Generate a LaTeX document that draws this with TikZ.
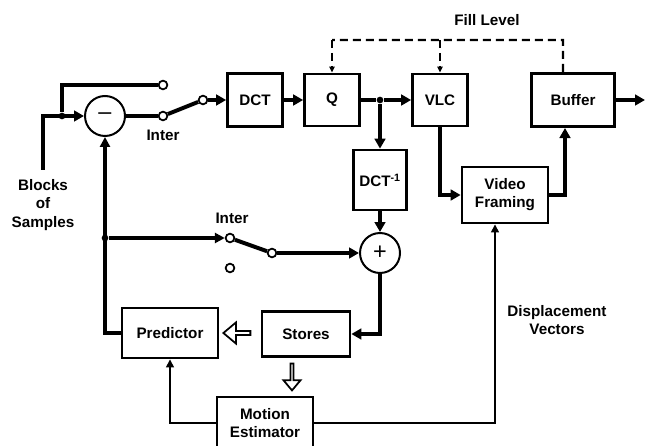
\documentclass[tikz,border=0pt]{standalone}
\usepackage{fontspec}
\setmainfont{Liberation Sans}
\usetikzlibrary{arrows.meta,shapes.arrows}

\begin{document}
\begin{tikzpicture}[x=0.3mm,y=-0.3mm,font=\fontsize{13}{15.5}\selectfont\bfseries,
  b/.style={draw,line width=2.3pt,inner sep=0pt,align=center,minimum width=16.5mm,minimum height=16mm},
  sum/.style={circle,draw,line width=1.7pt,minimum size=12mm,inner sep=0pt,font=\fontsize{20}{20}\selectfont},
  ct/.style={circle,draw,line width=1.5pt,fill=white,minimum size=2.6mm,inner sep=0pt},
  dot/.style={circle,fill,minimum size=2mm,inner sep=0pt},
  sig/.style={line width=3.4pt},
  a/.style={sig,-{Triangle[length=3mm,width=3.2mm]}},
  fbk/.style={line width=2.6pt,-{Triangle[length=3mm,width=3mm]}},
  th/.style={line width=1.8pt,-{Triangle[length=2.4mm,width=2.3mm]}},
  dsh/.style={line width=1.8pt,dash pattern=on 2.4mm off 1.5mm},
  hol/.style={single arrow,draw,line width=1.5pt,fill=white,inner sep=0pt,
    single arrow head extend=1.2mm,single arrow tip angle=80}]
\useasboundingbox (0,0) rectangle (647,446);
% blocks
\node[b] (dct) at (255,100) {DCT};
\node[b,minimum height=15.6mm] (q) at (332,100) {Q};
\node[b,minimum height=15.6mm] (vlc) at (440,100) {VLC};
\node[b,minimum width=25mm] (buf) at (573,100) {Buffer};
\node[b,minimum width=15.9mm,minimum height=18mm] (idct) at (380,180) {DCT\textsuperscript{-1}};
\node[b,minimum width=25.8mm,minimum height=16.8mm] (vf) at (505,195) {Video\\Framing};
\node[b,minimum width=26.4mm,minimum height=13.5mm] (st) at (306,334) {Stores};
\node[b,minimum width=28.8mm,minimum height=15mm] (pred) at (170,333) {Predictor};
\node[b,minimum width=28.8mm,minimum height=15.6mm] (me) at (265,423) {Motion\\Estimator};
\node[sum] (sub) at (105,116) {--};
\node[sum] (add) at (380,253) {+};
% switches
\node[ct] (s1a) at (163,85) {};
\node[ct] (s1b) at (163,116) {};
\node[ct] (s1p) at (203,100) {};
\node[ct] (s2a) at (230,238) {};
\node[ct] (s2b) at (230,268) {};
\node[ct] (s2p) at (272,253) {};
\node[dot] (j1) at (62,116) {};
\node[dot] (j2) at (105,238) {};
\node[dot] (j3) at (380,100) {};
\coordinate (in) at (43,170);
\coordinate (out) at (645,100);
\coordinate (fl0) at (332,40);
\coordinate (fl1) at (563,40);
% hollow arrows
\node[hol,shape border rotate=180,minimum height=8.1mm,minimum width=6.3mm] (h1) at (238,333) {};
\node[hol,shape border rotate=270,minimum height=8.1mm,minimum width=5.1mm] (h2) at (292,376) {};
% forward path
\draw[a] (in) |- (sub);
\draw[sig] (j1) |- (s1a);
\draw[sig] (sub) -- (s1b);
\draw[sig] (s1b) -- (s1p);
\draw[a] (s1p) -- (dct);
\draw[a] (dct) -- (q);
\draw[sig] (q) -- (j3);
\draw[a] (j3) -- (vlc);
\draw[a] (j3) -- (idct);
\draw[a] (vlc.south) |- (vf.west);
\draw[a] (vf.east) -| ([xshift=-2.4mm]buf.south);
\draw[a] (buf) -- (out);
% loop
\draw[a] (idct) -- (add);
\draw[a] (add.south) |- (st.east);
\draw[fbk] (pred.west) -| (sub.south);
\draw[fbk] (j2) -- (s2a);
\draw[sig] (s2a) -- (s2p);
\draw[a] (s2p) -- (add);
\draw[th] (me.west) -| (pred.south);
\draw[th] (me.east) -| ([xshift=-3mm]vf.south);
% fill level
\draw[dsh] ([xshift=-3mm]buf.north) -- (fl1) -- (fl0);
\draw[dsh,-{Triangle[length=1.8mm,width=1.6mm]}] (fl0) -- (q);
\draw[dsh,-{Triangle[length=1.8mm,width=1.6mm]}] (vlc |- fl0) -- (vlc);
% labels
\node (fill) at (487,20) {Fill Level};
\node (i1) at (163,135) {Inter};
\node (i2) at (232,218) {Inter};
\node[align=center] (blk) at (43,205) {Blocks\\of\\Samples};
\node[align=center] (dv) at (557,320) {Displacement\\Vectors};
\end{tikzpicture}
\end{document}
